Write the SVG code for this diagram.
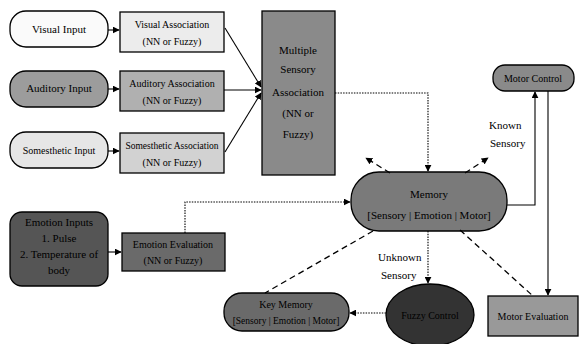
<svg xmlns="http://www.w3.org/2000/svg" width="579" height="344" viewBox="0 0 579 344" font-family="'Liberation Serif', 'Times New Roman', serif">
<defs>
<style>
text{font-family:'Liberation Serif','Times New Roman',serif;font-size:11px;fill:#000;text-anchor:middle}
.s{font-size:10px}
.xs{font-size:9.5px}
.n{stroke:#000;stroke-width:1.3}
.c{fill:none;stroke:#000;stroke-width:1.1}
.dot{stroke-dasharray:1.5 1.2}
.dash{stroke-dasharray:6 4;stroke-width:1.3}
.lbl{text-anchor:start}
</style>
<marker id="ah" viewBox="0 0 10 10" refX="9" refY="5" markerWidth="7" markerHeight="7" orient="auto" markerUnits="userSpaceOnUse">
<path d="M0,0 L10,5 L0,10 z" fill="#000"/>
</marker>
</defs>
<rect width="579" height="344" fill="#fff"/>

<g id="visual-input"><rect class="n" x="10" y="11" width="98" height="36" rx="16" fill="#fafafa"/><text x="59" y="33">Visual Input</text></g>
<g id="visual-assoc"><rect class="n" x="120" y="12" width="104" height="40" fill="#ececec"/><text class="s" x="172" y="28">Visual Association</text><text class="s" x="172" y="45">(NN or Fuzzy)</text></g>
<g id="auditory-input"><rect class="n" x="10" y="71" width="98" height="36" rx="16" fill="#9c9c9c"/><text x="59" y="92">Auditory Input</text></g>
<g id="auditory-assoc"><rect class="n" x="120" y="71" width="104" height="40" fill="#b0b0b0"/><text class="s" x="172" y="87">Auditory Association</text><text class="s" x="172" y="104">(NN or Fuzzy)</text></g>
<g id="somesthetic-input"><rect class="n" x="10" y="132" width="98" height="36" rx="16" fill="#e6e6e6"/><text class="s" x="59" y="154">Somesthetic Input</text></g>
<g id="somesthetic-assoc"><rect class="n" x="120" y="133" width="104" height="40" fill="#d2d2d2"/><text class="xs" x="172" y="149">Somesthetic Association</text><text class="s" x="172" y="166">(NN or Fuzzy)</text></g>
<g id="multiple-sensory"><rect class="n" x="262" y="11" width="73" height="164" fill="#8a8a8a"/><text x="298" y="54">Multiple</text><text x="298" y="73">Sensory</text><text x="298" y="96">Association</text><text x="298" y="117">(NN or</text><text x="298" y="138">Fuzzy)</text></g>
<g id="memory"><rect class="n" x="351" y="172" width="156" height="59" rx="28" fill="#7a7a7a"/><text x="429" y="198">Memory</text><text x="429" y="219">[Sensory | Emotion | Motor]</text></g>
<g id="motor-control"><rect class="n" x="493" y="65" width="81" height="26" rx="12" fill="#8a8a8a"/><text class="s" x="533" y="82">Motor Control</text></g>
<g id="emotion-inputs"><rect class="n" x="10" y="212" width="98" height="74" rx="12" fill="#555"/><text x="59" y="226">Emotion Inputs</text><text x="59" y="242">1. Pulse</text><text x="59" y="258">2. Temperature of</text><text x="59" y="274">body</text></g>
<g id="emotion-eval"><rect class="n" x="122" y="233" width="103" height="38" fill="#6a6a6a"/><text class="s" x="173" y="248">Emotion Evaluation</text><text class="s" x="173" y="264">(NN or Fuzzy)</text></g>
<g id="key-memory"><rect class="n" x="224" y="293" width="125" height="38" rx="18" fill="#6a6a6a"/><text class="s" x="286" y="308">Key Memory</text><text class="xs" x="286" y="324">[Sensory | Emotion | Motor]</text></g>
<g id="fuzzy-control"><ellipse class="n" cx="430" cy="315" rx="44" ry="31" fill="#333"/><text class="s" x="430" y="319">Fuzzy Control</text></g>
<g id="motor-eval"><rect class="n" x="488" y="296" width="90" height="40" fill="#999"/><text class="s" x="533" y="320">Motor Evaluation</text></g>

<g id="connectors">
<line class="c" x1="108" y1="30" x2="119" y2="30" marker-end="url(#ah)"/>
<line class="c" x1="108" y1="89" x2="119" y2="89" marker-end="url(#ah)"/>
<line class="c" x1="108" y1="151" x2="119" y2="151" marker-end="url(#ah)"/>
<line class="c" x1="225" y1="28" x2="261" y2="87" marker-end="url(#ah)"/>
<line class="c" x1="224" y1="90" x2="261" y2="90" marker-end="url(#ah)"/>
<line class="c" x1="225" y1="152" x2="261" y2="93" marker-end="url(#ah)"/>
<line class="c" x1="108" y1="252" x2="121" y2="252" marker-end="url(#ah)"/>
<polyline class="c dot" points="335,93 428,93 428,171" marker-end="url(#ah)"/>
<polyline class="c dot" points="185,233 185,202 350,202" marker-end="url(#ah)"/>
<polyline class="c" points="507,205 535,205 535,92" marker-end="url(#ah)"/>
<line class="c" x1="548" y1="91" x2="548" y2="295" marker-end="url(#ah)"/>
<line class="c dot" x1="428" y1="231" x2="428" y2="283" marker-end="url(#ah)"/>
<line class="c dot" x1="386" y1="313" x2="350" y2="313" marker-end="url(#ah)"/>
<line class="c dash" x1="373" y1="231" x2="265" y2="293"/>
<line class="c dash" x1="460" y1="230" x2="533" y2="296"/>
<line class="c dash" x1="390" y1="173" x2="366" y2="158" marker-end="url(#ah)"/>
<line class="c dash" x1="465" y1="173" x2="488" y2="158" marker-end="url(#ah)"/>
</g>

<g id="labels">
<text class="lbl" x="489" y="129">Known</text>
<text class="lbl" x="490" y="147">Sensory</text>
<text class="lbl" x="378" y="261">Unknown</text>
<text class="lbl" x="381" y="279">Sensory</text>
</g>
</svg>
